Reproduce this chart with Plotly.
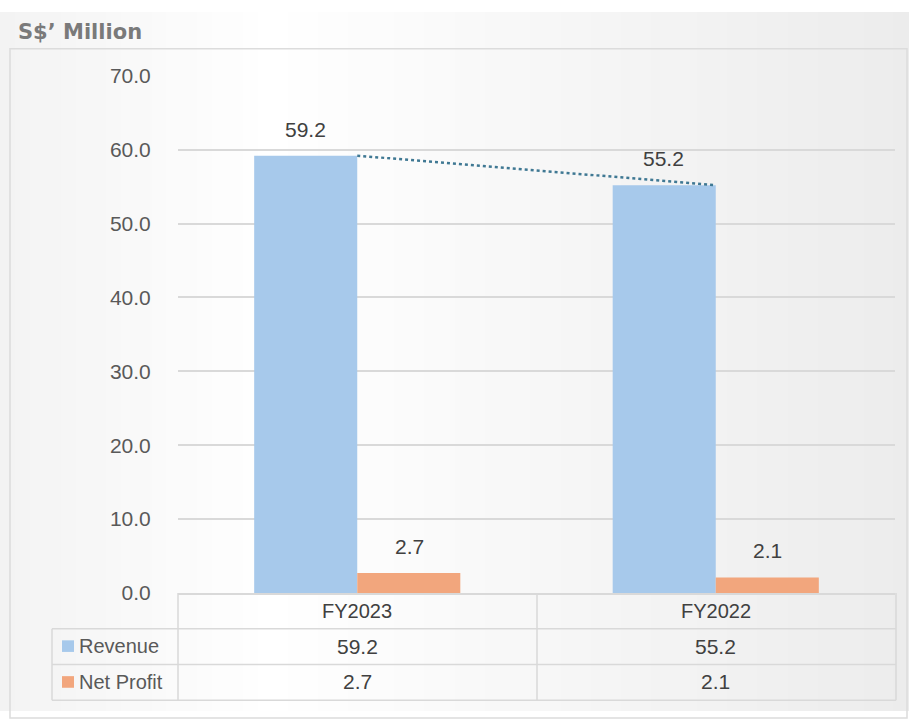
import plotly.graph_objects as go

# ---- data ----
categories = ["FY2023", "FY2022"]
revenue = [59.2, 55.2]
net_profit = [2.7, 2.1]
series_names = ["Revenue", "Net Profit"]
y_ticks = [0, 10, 20, 30, 40, 50, 60, 70]
y_tick_labels = ["0.0", "10.0", "20.0", "30.0", "40.0", "50.0", "60.0", "70.0"]

# ---- style ----
W, H = 909, 722
C_REV = "#a7c9eb"
C_NP = "#f2a67d"
C_TREND = "#3f7893"
GRID = "#d9d9d9"
TXT = "#404040"
TICK = "#595959"
FONT = "Liberation Sans"

def px(x):
    return x / W

def py(y):
    return 1 - y / H

x_dom = [px(178), px(895)]
y_dom = [py(600), py(66)]

fig = go.Figure()
fig.add_trace(go.Bar(x=categories, y=revenue, name=series_names[0],
                     marker=dict(color=C_REV, line=dict(width=0))))
fig.add_trace(go.Bar(x=categories, y=net_profit, name=series_names[1],
                     marker=dict(color=C_NP, line=dict(width=0))))
fig.add_trace(go.Scatter(x=categories, y=revenue, mode="lines",
                         line=dict(color=C_TREND, width=2.5, dash="dot"),
                         showlegend=False, hoverinfo="skip"))

shapes = []
# background gradient strips
n = 60
for i in range(n):
    x0 = i / n
    x1 = (i + 1) / n + 0.002
    xc = (x0 + x1) / 2
    if xc < 0.3:
        v = 243 + (255 - 243) * (xc / 0.3)
    else:
        v = 255 - (255 - 236) * ((xc - 0.3) / 0.7)
    v = int(round(v))
    shapes.append(dict(type="rect", xref="paper", yref="paper", x0=x0, x1=x1,
                       y0=0, y1=1, fillcolor=f"rgb({v},{v},{v})",
                       line=dict(width=0), layer="below"))
# outer border
shapes.append(dict(type="rect", xref="paper", yref="paper", x0=px(10), x1=px(907),
                   y0=py(722) - 0.01, y1=py(38), line=dict(color="#dcdcdc", width=1.5),
                   fillcolor="rgba(0,0,0,0)", layer="below"))
# table lines
def hline(y, xa, xb):
    shapes.append(dict(type="line", xref="paper", yref="paper", x0=px(xa), x1=px(xb),
                       y0=py(y), y1=py(y), line=dict(color=GRID, width=1.5)))
def vline(x, ya, yb):
    shapes.append(dict(type="line", xref="paper", yref="paper", x0=px(x), x1=px(x),
                       y0=py(ya), y1=py(yb), line=dict(color=GRID, width=1.5)))
hline(637, 52, 896)
hline(674, 52, 896)
hline(711, 52, 896)
vline(52, 637, 711)
vline(178, 600, 711)
vline(537, 600, 711)
vline(896, 600, 711)

# legend keys in table
key_colors = [C_REV, C_NP]
row_centers = [655, 692]
for c, yc in zip(key_colors, row_centers):
    shapes.append(dict(type="rect", xref="paper", yref="paper", x0=px(62), x1=px(74),
                       y0=py(yc + 6), y1=py(yc - 6), fillcolor=c, line=dict(width=0)))

annotations = []
# title
annotations.append(dict(text="<b>S$\u2019 Million</b>", xref="paper", yref="paper",
                        x=px(16), y=py(21), xanchor="left", yanchor="middle",
                        showarrow=False, font=dict(family="DejaVu Sans", size=21, color="#7a7a7a")))
# data labels
for vals, shift in ((revenue, -52), (net_profit, 52)):
    for cat, v in zip(categories, vals):
        annotations.append(dict(text=f"{v:.1f}", x=cat, y=v, xref="x", yref="y",
                                xshift=shift, yshift=13, yanchor="bottom", showarrow=False,
                                font=dict(family=FONT, size=21, color=TXT)))
# table header
for cat in categories:
    annotations.append(dict(text=cat, x=cat, xref="x", yref="paper", y=py(619),
                            yanchor="middle", showarrow=False,
                            font=dict(family=FONT, size=20, color=TXT)))
# table rows
for name, vals, yc in zip(series_names, [revenue, net_profit], row_centers):
    annotations.append(dict(text=name, xref="paper", yref="paper", x=px(77), y=py(yc),
                            xanchor="left", yanchor="middle", showarrow=False,
                            font=dict(family=FONT, size=20, color=TICK)))
    for cat, v in zip(categories, vals):
        annotations.append(dict(text=f"{v:.1f}", x=cat, xref="x", yref="paper", y=py(yc),
                                yanchor="middle", showarrow=False,
                                font=dict(family=FONT, size=21, color=TXT)))

fig.update_layout(
    width=W, height=H,
    margin=dict(l=0, r=0, t=0, b=0),
    paper_bgcolor="#ffffff",
    plot_bgcolor="rgba(0,0,0,0)",
    barmode="group", bargap=0.425, bargroupgap=0,
    showlegend=False,
    shapes=shapes,
    annotations=annotations,
    xaxis=dict(domain=x_dom, showticklabels=False, ticks="", showgrid=False,
               showline=True, linecolor=GRID, linewidth=1.5, zeroline=False,
               fixedrange=True),
    yaxis=dict(domain=y_dom, range=[0, 70], tickvals=y_ticks, ticktext=y_tick_labels,
               showgrid=True, gridcolor=GRID, gridwidth=1.5, zeroline=False,
               showline=False, ticks="outside", ticklen=22, tickcolor="rgba(0,0,0,0)",
               tickfont=dict(family=FONT, size=21, color=TICK),
               fixedrange=True),
)

fig.write_html("out.html", post_script="document.body.style.margin='0';document.body.style.padding='0';")
